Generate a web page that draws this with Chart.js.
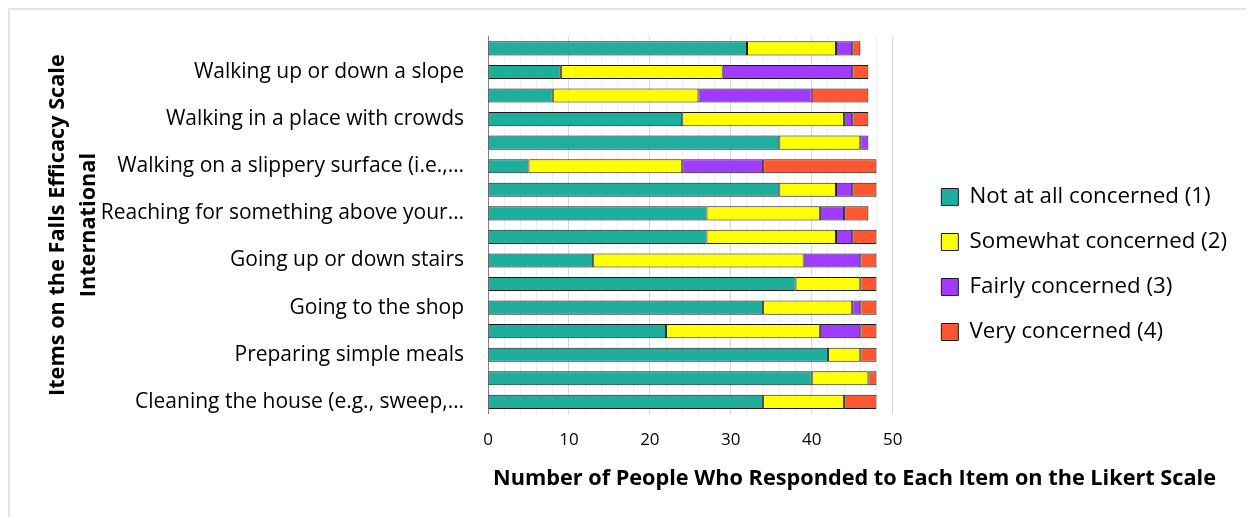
<!DOCTYPE html>
<html>
<head>
<meta charset="utf-8">
<script src="https://cdn.jsdelivr.net/npm/chart.js@4.4.1/dist/chart.umd.min.js"></script>
<style>
  html, body { margin: 0; padding: 0; background: #fff; }
  #wrap { position: relative; width: 1246px; height: 517px; overflow: hidden; }
  #frame { position: absolute; left: 8px; top: 8px; right: -10px; bottom: -10px;
           border-top: 2px solid #e3e3e3; border-left: 2px solid #e3e3e3; }
  #chart { position: absolute; left: 0; top: 0; }
</style>
</head>
<body>
<div id="wrap">
  <div id="frame"></div>
  <canvas id="chart" width="1246" height="517"></canvas>
</div>
<script>
// FES-I items, item 1 first (drawn at the bottom)
const items = [
  'Cleaning the house (e.g., sweep,…',
  'Getting dressed or undressed',
  'Preparing simple meals',
  'Taking a bath or shower',
  'Going to the shop',
  'Getting in or out of a chair',
  'Going up or down stairs',
  'Walking around in the neighbourhood',
  'Reaching for something above your…',
  'Going to answer the telephone…',
  'Walking on a slippery surface (i.e.,…',
  'Visiting a friend or relative',
  'Walking in a place with crowds',
  'Walking on an uneven surface (e.g.,…',
  'Walking up or down a slope',
  'Going out to a social event (e.g.,…'
];

// number of respondents per answer, same order as items
const notAtAll = [34, 40, 42, 22, 34, 38, 13, 27, 27, 36, 5, 36, 24, 8, 9, 32];
const somewhat = [10, 7, 4, 19, 11, 8, 26, 16, 14, 7, 19, 10, 20, 18, 20, 11];
const fairly   = [0, 0, 0, 5, 1, 0, 7, 2, 3, 2, 10, 1, 1, 14, 16, 2];
const very     = [4, 1, 2, 2, 2, 2, 2, 3, 3, 3, 14, 0, 2, 7, 2, 1];

const seriesNames = ['Not at all concerned (1)', 'Somewhat concerned (2)', 'Fairly concerned (3)', 'Very concerned (4)'];
const seriesColors = ['#1fae9c', '#ffff00', '#a03cff', '#ff5733'];

const xTitle = 'Number of People Who Responded to Each Item on the Likert Scale';
const yTitle = ['Items on the Falls Efficacy Scale', 'International'];

const FONT = '"Open Sans", sans-serif';

function makeSet(i, data) {
  return {
    label: seriesNames[i],
    data: data,
    backgroundColor: seriesColors[i],
    borderColor: '#1a1a1a',
    borderWidth: 1,
    borderSkipped: false,
    barPercentage: 0.6,
    categoryPercentage: 1
  };
}

// x axis title is wider than the plot, so draw it ourselves left-aligned
const xTitlePlugin = {
  id: 'xTitle',
  afterDraw(chart) {
    const c = chart.ctx;
    c.save();
    c.font = 'bold 21.7px ' + FONT;
    c.fillStyle = '#000';
    c.textAlign = 'left';
    c.textBaseline = 'middle';
    c.fillText(xTitle, chart.chartArea.left + 5, 479);
    c.restore();
  }
};

const ctx = document.getElementById('chart');
const chart = new Chart(ctx, {
  type: 'bar',
  data: {
    labels: items,
    datasets: [
      makeSet(0, notAtAll),
      makeSet(1, somewhat),
      makeSet(2, fairly),
      makeSet(3, very)
    ]
  },
  plugins: [xTitlePlugin],
  options: {
    indexAxis: 'y',
    responsive: false,
    animation: false,
    layout: { autoPadding: false, padding: { left: 40, top: 33, right: 9, bottom: 51 } },
    plugins: {
      tooltip: { enabled: false },
      legend: {
        position: 'right',
        maxWidth: 420,
        // empty title only pushes the entries down a little
        title: { display: true, text: '', font: { size: 10 }, padding: { top: 9, bottom: 9 } },
        labels: {
          font: { family: FONT, size: 22.3 },
          color: '#000',
          boxWidth: 17,
          boxHeight: 17,
          padding: 22.7
        }
      }
    },
    scales: {
      x: {
        stacked: true,
        min: 0,
        max: 50,
        border: { display: false },
        grid: {
          drawTicks: false,
          color: c => (c.tick && c.tick.value % 10 === 0) ? '#d9d9d9' : '#eeeeee'
        },
        ticks: {
          stepSize: 2,
          autoSkip: false,
          maxRotation: 0,
          padding: 16,
          color: '#000',
          font: { family: FONT, size: 17 },
          callback: v => (v % 10 === 0 ? v : '')
        }
      },
      y: {
        stacked: true,
        reverse: true,
        border: { display: true, color: '#7f7f7f', width: 1 },
        grid: { display: false, drawTicks: false },
        ticks: {
          autoSkip: false,
          padding: 24,
          color: '#000',
          font: { family: FONT, size: 21 },
          callback: (v, i) => (i % 2 === 0 ? items[i] : '')
        },
        title: {
          display: true,
          text: yTitle,
          color: '#000',
          font: { family: FONT, size: 21.7, weight: 'bold', lineHeight: 1.43 },
          padding: { top: 2, bottom: 0 }
        },
        afterFit: s => { s.width = 448; }
      },
      // empty spacer between the plot and the legend
      gap: {
        type: 'category',
        position: 'right',
        grid: { display: false, drawTicks: false },
        border: { display: false },
        ticks: { display: false },
        afterFit: s => { s.width = 26; }
      }
    }
  }
});
</script>
</body>
</html>
